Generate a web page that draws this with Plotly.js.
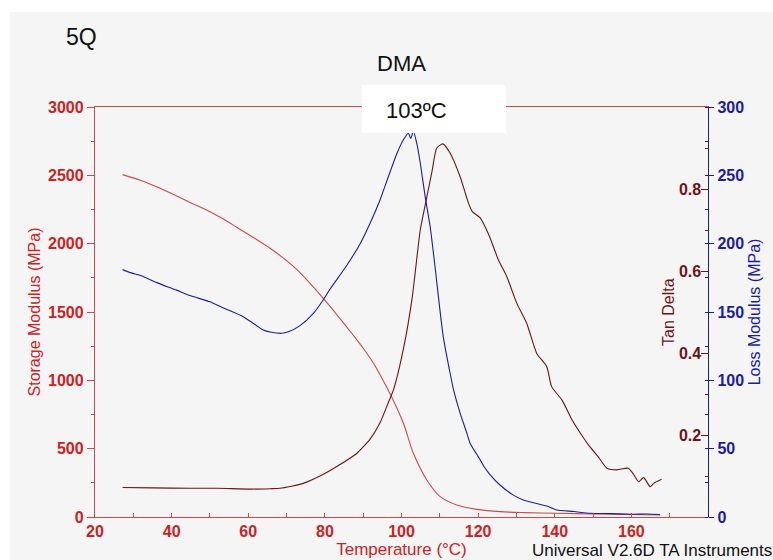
<!DOCTYPE html>
<html>
<head>
<meta charset="utf-8">
<script src="https://cdn.plot.ly/plotly-3.0.1.min.js"></script>
<style>
  html, body { margin: 0; padding: 0; background: #ffffff; }
  #chart { width: 773px; height: 560px; }
</style>
</head>
<body>
<div id="chart"></div>
<script>
// DMA temperature sweep, sample 5Q
const tempStorage = [27.2, 32, 37, 44.8, 50, 53.5, 57, 62.2, 65.7, 71.8, 75, 79.6, 83, 87.4, 90, 92.7, 95, 97.4, 100.5, 103.1, 106.6, 110.1, 114.4, 119.7, 125.7, 132, 140.5, 150, 160, 167.5];
const storageModulus = [2505, 2462, 2405, 2302, 2234, 2180, 2120, 2030, 1966, 1834, 1745, 1600, 1485, 1330, 1235, 1125, 1010, 880, 686, 466, 271, 149, 88, 56, 39, 32, 27, 22, 18, 15];

const tempLoss = [27.2, 29, 32.6, 36.1, 41.3, 44.8, 50, 53.5, 58.7, 62.2, 63.9, 66, 68.7, 70.5, 73.5, 77, 79.6, 81.4, 85.7, 89.2, 91.8, 94.4, 95.3, 98.8, 100.5, 101.8, 102.4, 103.1, 104.1, 104.9, 106.2, 107.5, 108.8, 109.6, 110.9, 112.7, 113.6, 115.3, 117.1, 117.9, 120.5, 121.4, 123.1, 125.7, 129.2, 131.8, 137.9, 140.5, 145, 149.2, 155, 160, 164, 167.5];
const lossModulus = [181, 179, 176, 171.5, 166, 162, 157.5, 153, 146.6, 140, 136.8, 135.2, 134.4, 135.5, 140, 149, 159, 167, 184, 200, 215, 232, 239, 266, 276, 281, 277, 282, 272, 259, 234, 212, 182, 162, 132, 105, 93, 76, 61, 54, 42, 37.5, 31, 23.4, 16, 12.4, 8, 5.1, 4, 2.7, 2.5, 2, 2.2, 1.8];

const tempTan = [27.2, 35, 44.8, 52, 60.5, 65.7, 68.3, 74.4, 79.6, 83.1, 88.3, 90.1, 91.8, 94.4, 96.6, 97.9, 100.5, 102.7, 103.5, 104.9, 106.6, 108, 109.2, 110.8, 112.7, 115.3, 117.5, 118.5, 120.5, 122.7, 125.3, 127.5, 130.1, 132.7, 135.3, 137.9, 139.2, 141.9, 144.5, 147, 149.2, 151.5, 153.6, 156.2, 159.2, 160.5, 161.9, 163.2, 164.9, 165.8, 167.9];
const tanDelta = [0.072, 0.071, 0.070, 0.070, 0.068, 0.069, 0.070, 0.082, 0.104, 0.123, 0.155, 0.172, 0.190, 0.230, 0.280, 0.310, 0.410, 0.529, 0.590, 0.700, 0.780, 0.845, 0.900, 0.910, 0.887, 0.830, 0.765, 0.745, 0.730, 0.690, 0.627, 0.586, 0.521, 0.472, 0.399, 0.367, 0.318, 0.285, 0.237, 0.200, 0.171, 0.145, 0.119, 0.115, 0.119, 0.105, 0.086, 0.096, 0.074, 0.082, 0.092];

const xTicks = [20, 40, 60, 80, 100, 120, 140, 160, 180];
const tanTicks = [0.2, 0.4, 0.6, 0.8];
const tanMinorTicks = [0.1, 0.3, 0.5, 0.7, 0.9];

const RED = '#cc2222';
const RED_LINE = '#d04848';
const MAROON = '#6e1414';
const BLUE = '#1c1ca0';
const FONT = 'Liberation Sans, Arial, sans-serif';

// plot area in pixels: left 95, right 708, top 107, bottom 517
const PL = 95, PR = 708, PT = 107, PB = 517;
const px = v => (v - PL) / (PR - PL);
const py = v => (PB - v) / (PB - PT);

const traces = [
  { x: tempStorage, y: storageModulus, type: 'scatter', mode: 'lines', yaxis: 'y',
    line: { color: RED_LINE, width: 1.1, shape: 'spline', smoothing: 0.8 }, name: 'Storage Modulus' },
  { x: tempTan, y: tanDelta, type: 'scatter', mode: 'lines', yaxis: 'y2',
    line: { color: MAROON, width: 1.1, shape: 'spline', smoothing: 0.6 }, name: 'Tan Delta' },
  { x: tempLoss, y: lossModulus, type: 'scatter', mode: 'lines', yaxis: 'y3',
    line: { color: BLUE, width: 1.1, shape: 'spline', smoothing: 0.6 }, name: 'Loss Modulus' }
];

const tickFont = (c, s) => ({ family: FONT, size: s, color: c, weight: 'bold' });

const layout = {
  width: 773, height: 560,
  margin: { l: PL, r: 773 - PR, t: PT, b: 560 - PB, pad: 0 },
  paper_bgcolor: '#ffffff',
  plot_bgcolor: 'rgba(0,0,0,0)',
  showlegend: false,
  font: { family: FONT },
  title: { text: 'DMA', x: 0.5, xref: 'paper', y: 1 - 63 / 560, yanchor: 'middle',
           font: { family: FONT, size: 22, color: '#111111' } },
  xaxis: {
    range: [20, 180], tickvals: xTicks, showgrid: false, zeroline: false,
    showline: true, linecolor: RED_LINE, linewidth: 1.2, mirror: true,
    ticks: 'inside', ticklen: 4, tickcolor: RED_LINE,
    minor: { dtick: 10, ticks: 'inside', ticklen: 4, tickcolor: RED_LINE },
    tickfont: tickFont(RED, 16),
    title: { text: 'Temperature (°C)', standoff: 2, font: { family: FONT, size: 17, color: RED } }
  },
  yaxis: {
    range: [0, 3000], dtick: 500, showgrid: false, zeroline: false,
    showline: true, linecolor: RED_LINE, linewidth: 1.2,
    ticks: 'outside', ticklen: 7, tickcolor: RED_LINE,
    minor: { dtick: 250, ticks: 'outside', ticklen: 3, tickcolor: RED_LINE },
    tickfont: tickFont(RED, 16),
    title: { text: 'Storage Modulus (MPa)', standoff: 3, font: { family: FONT, size: 16, color: RED } }
  },
  yaxis2: {
    overlaying: 'y', side: 'right', anchor: 'x',
    range: [0, 1], tickvals: tanTicks, showgrid: false, zeroline: false, showline: false,
    ticks: 'inside', ticklen: 7, tickcolor: MAROON,
    ticklabelposition: 'inside',
    minor: { tickvals: tanMinorTicks, ticks: 'inside', ticklen: 3, tickcolor: MAROON },
    tickfont: tickFont(MAROON, 16)
  },
  yaxis3: {
    overlaying: 'y', side: 'right', anchor: 'x',
    range: [0, 300], dtick: 50, showgrid: false, zeroline: false,
    showline: true, linecolor: BLUE, linewidth: 1.2,
    ticks: 'outside', ticklen: 5, tickcolor: BLUE,
    minor: { dtick: 25, ticks: 'inside', ticklen: 3, tickcolor: BLUE },
    tickfont: tickFont(BLUE, 16),
    title: { text: 'Loss Modulus (MPa)', standoff: 5, font: { family: FONT, size: 16, color: BLUE } }
  },
  shapes: [
    // light grey panel behind the whole figure
    { type: 'rect', layer: 'below', xref: 'paper', yref: 'paper',
      x0: px(10), x1: px(773), y0: py(560), y1: py(12),
      fillcolor: '#f5f5f5', line: { width: 0 } },
    // white label box for the peak temperature
    { type: 'rect', layer: 'above', xref: 'paper', yref: 'paper',
      x0: px(362), x1: px(506), y0: py(133), y1: py(85),
      fillcolor: '#ffffff', line: { width: 0 } }
  ],
  annotations: [
    { text: '5Q', xref: 'paper', yref: 'paper', x: px(64), y: py(37),
      xanchor: 'left', yanchor: 'middle', showarrow: false,
      font: { family: FONT, size: 23, color: '#111111' } },
    { text: '103ºC', xref: 'paper', yref: 'paper', x: px(384), y: py(110),
      xanchor: 'left', yanchor: 'middle', showarrow: false,
      font: { family: FONT, size: 22, color: '#111111' } },
    { text: 'Tan Delta', xref: 'paper', yref: 'paper', x: px(668), y: py(312),
      xanchor: 'center', yanchor: 'middle', textangle: -90, showarrow: false,
      font: { family: FONT, size: 16, color: MAROON } },
    { text: 'Universal V2.6D TA Instruments', xref: 'paper', yref: 'paper', x: px(530), y: py(550),
      xanchor: 'left', yanchor: 'middle', showarrow: false,
      font: { family: FONT, size: 17, color: '#111111' } }
  ]
};

Plotly.newPlot('chart', traces, layout, { displayModeBar: false, staticPlot: true });
</script>
</body>
</html>
